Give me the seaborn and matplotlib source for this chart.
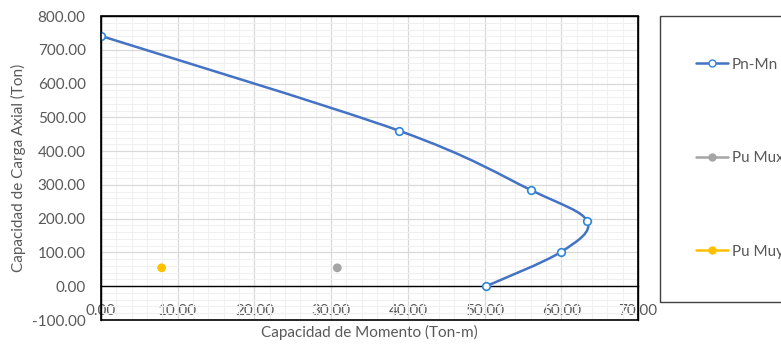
import numpy as np
import pandas as pd
import matplotlib
matplotlib.use("Agg")
import matplotlib.pyplot as plt
import seaborn as sns
from matplotlib.path import Path
from matplotlib.patches import PathPatch, Rectangle
from matplotlib.lines import Line2D
from matplotlib.ticker import MultipleLocator, FormatStrFormatter

# --- datos del diagrama de interaccion ---
mn = [0.00, 38.90, 56.10, 63.40, 60.00, 50.20]
pn = [741.0, 460.0, 284.0, 192.0, 102.0, 0.0]
mux = [30.8]
mux_p = [54.5]
muy = [7.9]
muy_p = [54.5]

azul = "#4472C4"
azul_mk = "#2E86D6"
gris = "#A5A5A5"
amarillo = "#FFC000"
texto = "#595959"

sns.set_style("white")
plt.rcParams["font.family"] = ["Lato", "DejaVu Sans"]

fig = plt.figure(figsize=(7.81, 3.44), dpi=100)
ax = fig.add_axes([101 / 781, 24 / 344, 537 / 781, 304 / 344])

# linea suavizada (bezier tipo Excel) a partir de los puntos
pts = np.column_stack([mn, pn])
ext = np.vstack([pts[0], pts, pts[-1]])
verts = [pts[0]]
codes = [Path.MOVETO]
for i in range(len(pts) - 1):
    p0, p1, p2, p3 = ext[i], ext[i + 1], ext[i + 2], ext[i + 3]
    verts += [p1 + (p2 - p0) / 6, p2 - (p3 - p1) / 6, p2]
    codes += [Path.CURVE4] * 3
ax.add_patch(PathPatch(Path(verts, codes), fill=False, ec=azul, lw=1.8, zorder=3))

df = pd.DataFrame({"M": mn, "P": pn})
sns.scatterplot(data=df, x="M", y="P", ax=ax, marker="o", s=30,
                facecolor="white", edgecolor=azul_mk, linewidth=1.2, zorder=4)
sns.scatterplot(x=mux, y=mux_p, ax=ax, color=gris, s=40, edgecolor="none", zorder=4)
sns.scatterplot(x=muy, y=muy_p, ax=ax, color=amarillo, s=40, edgecolor="none", zorder=4)

ax.set_xlim(0, 70)
ax.set_ylim(-100, 800)
ax.xaxis.set_major_locator(MultipleLocator(10))
ax.xaxis.set_minor_locator(MultipleLocator(2))
ax.yaxis.set_major_locator(MultipleLocator(100))
ax.yaxis.set_minor_locator(MultipleLocator(20))
ax.xaxis.set_major_formatter(FormatStrFormatter("%.2f"))
ax.yaxis.set_major_formatter(FormatStrFormatter("%.2f"))
ax.grid(which="major", color="#D9D9D9", lw=0.9)
ax.grid(which="minor", color="#F0F0F0", lw=0.8)
ax.set_axisbelow(True)

for s in ["top", "right", "left"]:
    ax.spines[s].set_color("black")
    ax.spines[s].set_linewidth(1.0)
ax.spines["bottom"].set_position(("data", 0))
ax.spines["bottom"].set_color("black")
ax.spines["bottom"].set_linewidth(1.0)
ax.add_patch(Rectangle((0, 0), 1, 1, transform=ax.transAxes, fill=False,
                       ec="black", lw=1.2, zorder=5, clip_on=False))

ax.tick_params(axis="x", which="major", direction="in", length=5, width=1,
               color="black", pad=13, labelsize=11, labelcolor=texto)
ax.tick_params(axis="x", which="minor", length=0)
ax.tick_params(axis="y", which="both", length=0, pad=11, labelsize=11, labelcolor=texto)

ax.set_xlabel("Capacidad de Momento (Ton-m)", fontsize=11, color=texto, labelpad=0)
ax.set_ylabel("Capacidad de Carga Axial (Ton)", fontsize=11, color=texto, labelpad=4)
ax.xaxis.set_label_coords(0.5, -0.015)

# caja de leyenda (cortada a la derecha como en el original)
fig.patches.append(Rectangle((660 / 781, 42 / 344), 0.25, 286 / 344,
                             transform=fig.transFigure, fill=False,
                             ec="#404040", lw=1.0))
handles = [
    Line2D([], [], color=azul, lw=1.8, marker="o", mfc="white", mec=azul_mk, ms=5),
    Line2D([], [], color=gris, lw=1.8, marker="o", mfc=gris, mec=gris, ms=5),
    Line2D([], [], color=amarillo, lw=1.8, marker="o", mfc=amarillo, mec=amarillo, ms=5),
]
fig.legend(handles, ["Pn-Mn", "Pu Mux", "Pu Muy"], loc="upper left",
           bbox_to_anchor=(688 / 781, 1 - 50 / 344), frameon=False,
           fontsize=11, labelcolor=texto, handlelength=2.1, handletextpad=0.25,
           labelspacing=5.2, borderpad=0)

fig.savefig("out.png", dpi=100)
